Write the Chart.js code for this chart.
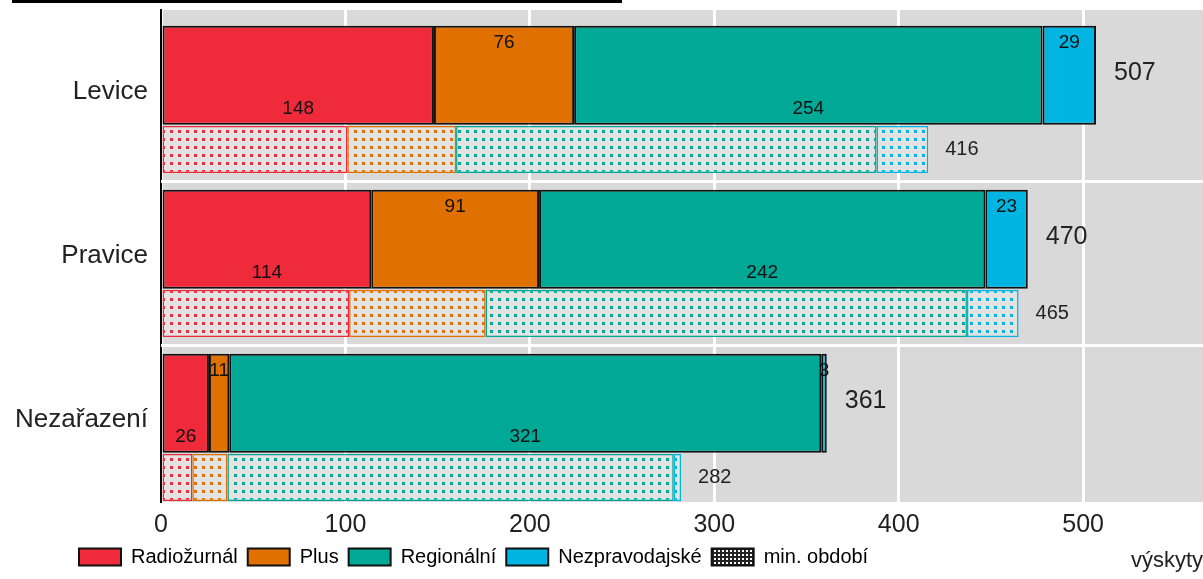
<!DOCTYPE html>
<html>
<head>
<meta charset="utf-8">
<style>
  html, body { margin: 0; padding: 0; background: #fff; }
</style>
</head>
<body>
<canvas id="chart" width="1203" height="579"></canvas>

<script src="https://cdn.jsdelivr.net/npm/chart.js"></script>
<script>
  // data
  const categories = ['Levice', 'Pravice', 'Nezařazení'];
  const seriesNames = ['Radiožurnál', 'Plus', 'Regionální', 'Nezpravodajské'];
  const radiozurnal = [148, 114, 26];
  const plus = [76, 91, 11];
  const regionalni = [254, 242, 321];
  const nezpravodajske = [29, 23, 3];
  // min. období (previous period)
  const radiozurnalMin = [101, 102, 17];
  const plusMin = [59, 74, 19];
  const regionalniMin = [228, 261, 242];
  const nezpravodajskeMin = [28, 28, 4];
  const xTicks = [0, 100, 200, 300, 400, 500];
  const prevLabel = 'min. období';
  const axisTitle = 'výskyty';

  const colors = ['#ee2a3b', '#e07000', '#00a896', '#00b5e2'];
  const current = [radiozurnal, plus, regionalni, nezpravodajske];
  const previous = [radiozurnalMin, plusMin, regionalniMin, nezpravodajskeMin];
  const FONT = "'Liberation Sans', Arial, sans-serif";

  function dotPattern(color, bg, w, h, dw, dh) {
    const c = document.createElement('canvas');
    c.width = w; c.height = h;
    const g = c.getContext('2d');
    g.fillStyle = bg;
    g.fillRect(0, 0, w, h);
    g.fillStyle = color;
    g.fillRect(2, 2, dw, dh);
    return c.getContext('2d').createPattern(c, 'repeat');
  }

  const extras = {
    id: 'extras',
    afterLayout(chart) {
      // legend starts under the left labels, not at the page edge
      if (chart.legend) chart.legend.left += 69;
    },
    beforeDraw(chart) {
      const { ctx, chartArea: a } = chart;
      ctx.save();
      ctx.fillStyle = '#d9d9d9';
      ctx.fillRect(a.left, a.top, a.right - a.left, a.bottom - a.top);
      ctx.restore();
    },
    beforeDatasetsDraw(chart) {
      // white separators between category groups
      const { ctx, chartArea: a } = chart;
      const first = chart.getDatasetMeta(0).data;
      const last = chart.getDatasetMeta(chart.data.datasets.length - 1).data;
      ctx.save();
      ctx.strokeStyle = '#fff';
      ctx.lineWidth = 3;
      for (let j = 0; j < categories.length - 1; j++) {
        const b = last[j].y + last[j].height / 2;
        const t = first[j + 1].y - first[j + 1].height / 2;
        const y = (b + t) / 2;
        ctx.beginPath();
        ctx.moveTo(a.left, y);
        ctx.lineTo(a.right, y);
        ctx.stroke();
      }
      ctx.restore();
    },
    afterDatasetsDraw(chart) {
      const ctx = chart.ctx;
      ctx.save();
      ctx.fillStyle = '#111';
      ctx.textAlign = 'center';
      ctx.textBaseline = 'middle';
      ctx.font = '19px ' + FONT;
      current.forEach((d, i) => {
        chart.getDatasetMeta(i).data.forEach((el, j) => {
          const cx = (el.x + el.base) / 2;
          const cy = i % 2 === 0 ? el.y + el.height / 2 - 16 : el.y - el.height / 2 + 17;
          ctx.fillText(d[j], cx, cy);
        });
      });
      // totals
      const lastNow = chart.getDatasetMeta(current.length - 1).data;
      const lastPrev = chart.getDatasetMeta(current.length + previous.length - 1).data;
      ctx.textAlign = 'left';
      ctx.fillStyle = '#222';
      categories.forEach((c, j) => {
        const totNow = current.reduce((s, d) => s + d[j], 0);
        const totPrev = previous.reduce((s, d) => s + d[j], 0);
        ctx.font = '25px ' + FONT;
        ctx.fillText(totNow, lastNow[j].x + 18, lastNow[j].y - 2);
        ctx.font = '20px ' + FONT;
        ctx.fillText(totPrev, lastPrev[j].x + 17, lastPrev[j].y);
      });
      ctx.restore();
    },
    afterDraw(chart) {
      // cut-off heading underline at the very top
      const ctx = chart.ctx;
      ctx.save();
      ctx.fillStyle = '#000';
      ctx.fillRect(12, 0, 610, 3);
      ctx.restore();
    }
  };

  const legendPattern = dotPattern('#fff', '#222', 4, 4, 2, 2);

  new Chart(document.getElementById('chart').getContext('2d'), {
    type: 'bar',
    data: {
      labels: categories,
      datasets: [
        ...current.map((d, i) => ({
          label: seriesNames[i],
          data: d,
          stack: 'now',
          backgroundColor: colors[i],
          borderColor: '#111',
          borderWidth: 2,
          borderSkipped: false,
          categoryPercentage: 0.4085,
          barPercentage: 2.955
        })),
        ...previous.map((d, i) => ({
          label: seriesNames[i] + ' (' + prevLabel + ')',
          data: d,
          stack: 'prev',
          backgroundColor: dotPattern(colors[i], '#e3e3e3', 8, 8, 3, 3),
          borderColor: colors[i],
          borderWidth: 1.5,
          borderSkipped: false,
          categoryPercentage: 1.4024,
          barPercentage: 0.4087
        }))
      ]
    },
    options: {
      responsive: false,
      animation: false,
      indexAxis: 'y',
      layout: { padding: { left: 0, right: 0, top: 10, bottom: 2 } },
      scales: {
        x: {
          stacked: true,
          min: 0,
          max: 565,
          border: { display: false },
          grid: { color: '#fff', lineWidth: 3, drawTicks: false },
          afterBuildTicks: s => { s.ticks = xTicks.map(v => ({ value: v })); },
          ticks: { padding: 8, color: '#222', font: { size: 25, family: FONT } },
          title: {
            display: true, text: axisTitle, align: 'end', color: '#222',
            font: { size: 22, family: FONT }, padding: { top: 0, bottom: -37 }
          },
          afterFit: s => { s.height = 35; }
        },
        y: {
          stacked: true,
          border: { display: true, color: '#000', width: 2 },
          grid: { display: false },
          ticks: { color: '#222', padding: 5, font: { size: 26, family: FONT } },
          afterFit: s => { s.width = 161; s.paddingTop = 0; s.paddingBottom = 0; }
        }
      },
      plugins: {
        legend: {
          position: 'bottom',
          align: 'start',
          onClick: null,
          labels: {
            boxWidth: 42,
            boxHeight: 17,
            padding: 10,
            color: '#222',
            font: { size: 20, family: FONT },
            generateLabels: () => [
              ...seriesNames.map((n, i) => ({
                text: n, fillStyle: colors[i], strokeStyle: '#111', lineWidth: 2, hidden: false, datasetIndex: i
              })),
              { text: prevLabel, fillStyle: legendPattern, strokeStyle: '#111', lineWidth: 2, hidden: false, datasetIndex: 4 }
            ]
          }
        },
        tooltip: { enabled: false }
      }
    },
    plugins: [extras]
  });
</script>
</body>
</html>
